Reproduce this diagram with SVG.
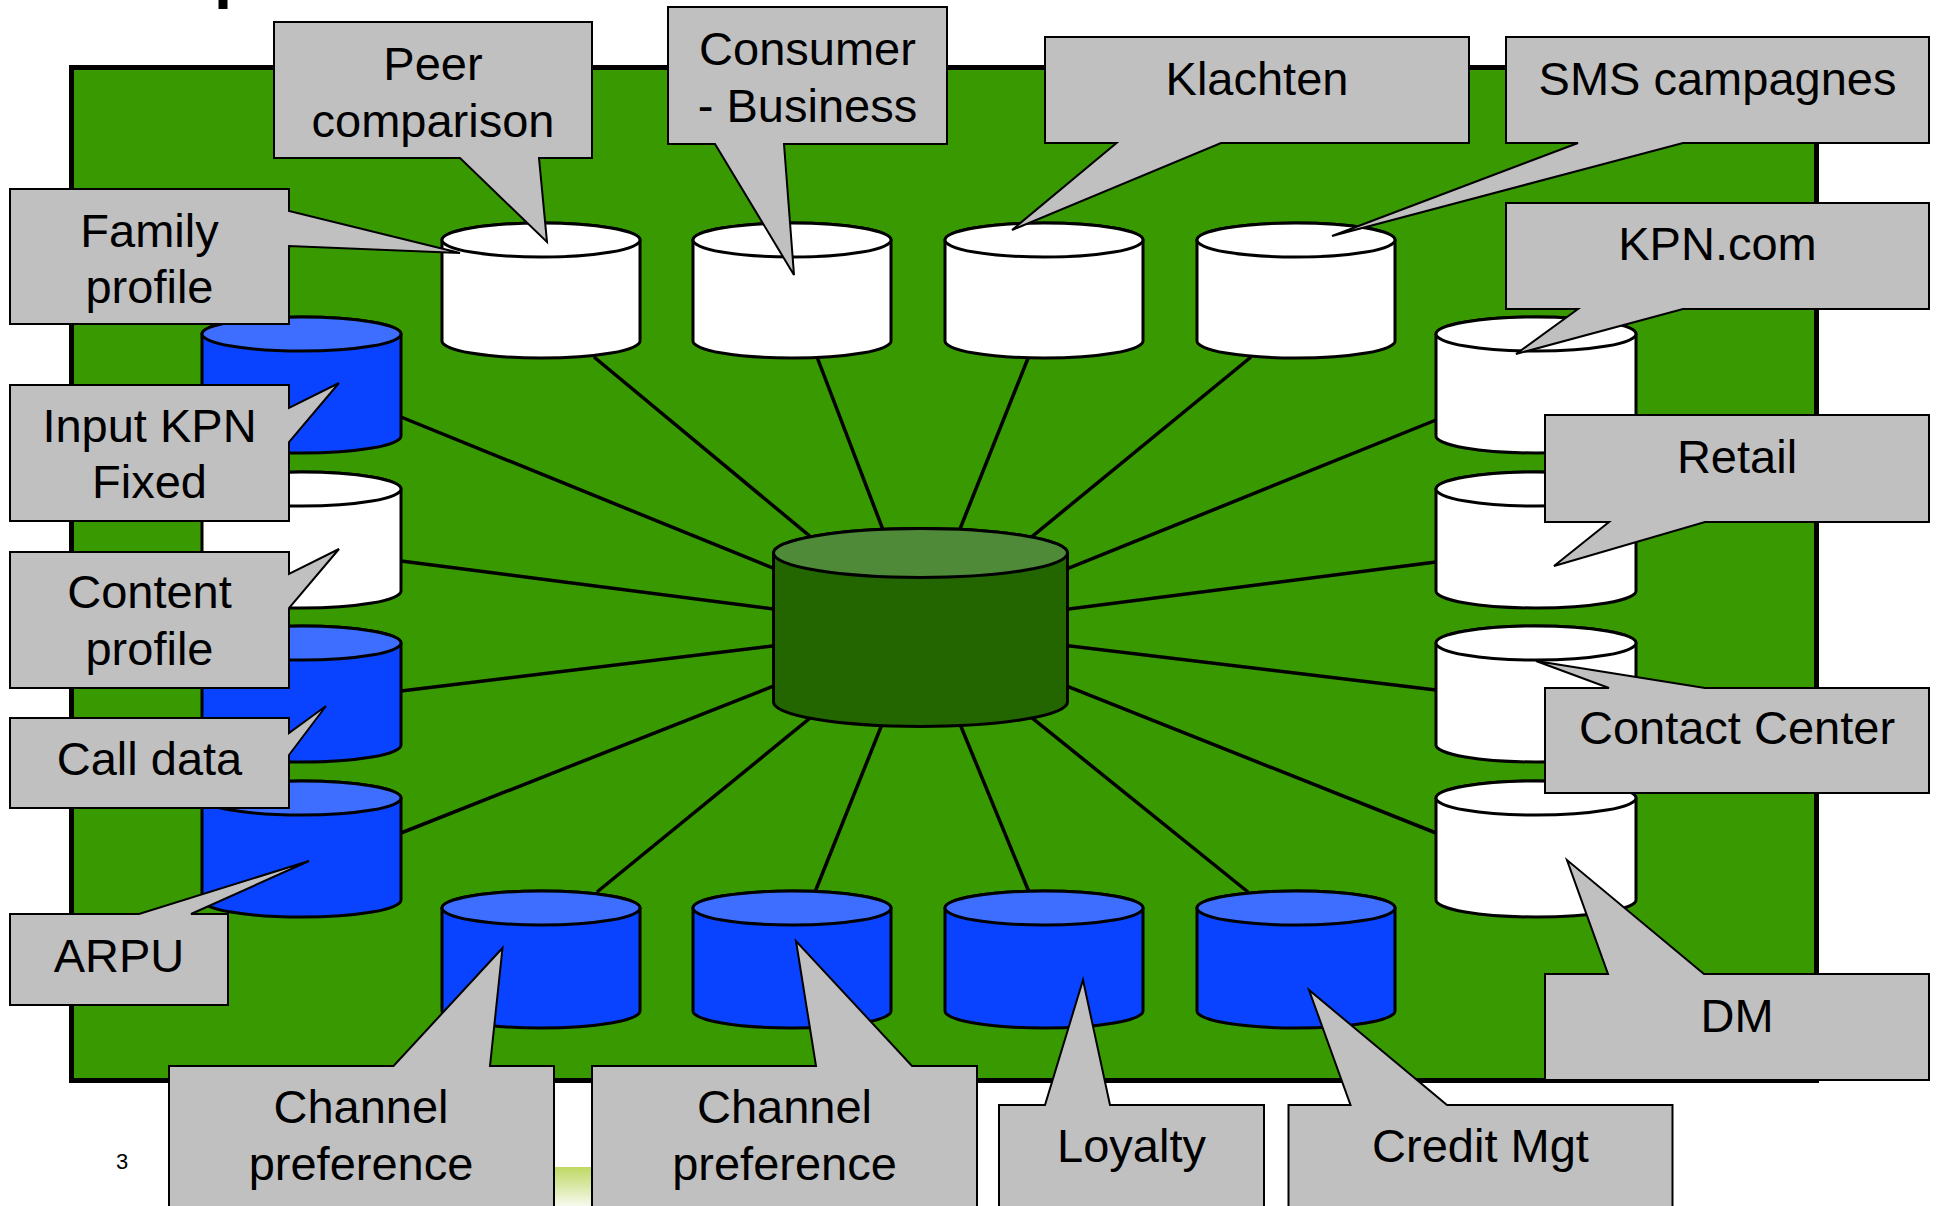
<svg xmlns="http://www.w3.org/2000/svg" width="1942" height="1206" viewBox="0 0 1942 1206">
<defs>
<style>
.bg{fill:#389900;stroke:#000;stroke-width:5}
.conn line{stroke:#000;stroke-width:3.5}
.cyl path,.cyl ellipse{stroke:#000;stroke-width:3}
.w path,.w ellipse{fill:#fff}
.b path{fill:#0A43FF}
.b ellipse{fill:#3D6EFF}
.c path{fill:#236600}
.c ellipse{fill:#4F8A38}
.box{fill:#C0C0C0;stroke:#000;stroke-width:2}
.lbl{font-family:"Liberation Sans",Arial,Helvetica,sans-serif;font-size:47px;text-anchor:middle;fill:#000}
.pg{font-family:"Liberation Sans",Arial,sans-serif;font-size:22px;text-anchor:middle;fill:#000}
</style>
<linearGradient id="blob" x1="0" y1="0" x2="0" y2="1">
<stop offset="0" stop-color="#BFD862"/>
<stop offset="1" stop-color="#F6F9EE"/>
</linearGradient>
</defs>
<rect width="1942" height="1206" fill="#fff"/>
<rect x="218.5" y="0" width="9" height="9" fill="#000"/>
<rect x="554" y="1167" width="38" height="39" fill="url(#blob)"/>
<text class="pg" x="122" y="1169">3</text>
<rect class="bg" x="71.5" y="67.5" width="1745" height="1013"/>
<g id="connectors" class="conn">
<line x1="594" y1="357" x2="920.5" y2="628"/>
<line x1="817" y1="357" x2="920.5" y2="628"/>
<line x1="1028.5" y1="357" x2="920.5" y2="628"/>
<line x1="1251" y1="357" x2="920.5" y2="628"/>
<line x1="401" y1="417" x2="920.5" y2="628"/>
<line x1="401" y1="561" x2="920.5" y2="628"/>
<line x1="401" y1="691" x2="920.5" y2="628"/>
<line x1="401" y1="833" x2="920.5" y2="628"/>
<line x1="1436" y1="420" x2="920.5" y2="628"/>
<line x1="1436" y1="562" x2="920.5" y2="628"/>
<line x1="1436" y1="690" x2="920.5" y2="628"/>
<line x1="1436" y1="833" x2="920.5" y2="628"/>
<line x1="597" y1="892" x2="920.5" y2="628"/>
<line x1="815" y1="892" x2="920.5" y2="628"/>
<line x1="1029" y1="892" x2="920.5" y2="628"/>
<line x1="1248" y1="892" x2="920.5" y2="628"/>
</g>
<g id="hub" class="cyl c"><path d="M773.5,553 V702 A147,24.5 0 0 0 1067.5,702 V553 A147,24.5 0 0 0 773.5,553 Z"/><ellipse cx="920.5" cy="553" rx="147" ry="24.5"/></g>
<g id="db-top1" class="cyl w"><path d="M442,240 V341 A99,17 0 0 0 640,341 V240 A99,17 0 0 0 442,240 Z"/><ellipse cx="541" cy="240" rx="99" ry="17"/></g>
<g id="db-top2" class="cyl w"><path d="M693,240 V341 A99,17 0 0 0 891,341 V240 A99,17 0 0 0 693,240 Z"/><ellipse cx="792" cy="240" rx="99" ry="17"/></g>
<g id="db-top3" class="cyl w"><path d="M945,240 V341 A99,17 0 0 0 1143,341 V240 A99,17 0 0 0 945,240 Z"/><ellipse cx="1044" cy="240" rx="99" ry="17"/></g>
<g id="db-top4" class="cyl w"><path d="M1197,240 V341 A99,17 0 0 0 1395,341 V240 A99,17 0 0 0 1197,240 Z"/><ellipse cx="1296" cy="240" rx="99" ry="17"/></g>
<g id="db-left1" class="cyl b"><path d="M202,334 V436 A99.5,17 0 0 0 401,436 V334 A99.5,17 0 0 0 202,334 Z"/><ellipse cx="301.5" cy="334" rx="99.5" ry="17"/></g>
<g id="db-left2" class="cyl w"><path d="M202,489 V591 A99.5,17 0 0 0 401,591 V489 A99.5,17 0 0 0 202,489 Z"/><ellipse cx="301.5" cy="489" rx="99.5" ry="17"/></g>
<g id="db-left3" class="cyl b"><path d="M202,643 V745 A99.5,17 0 0 0 401,745 V643 A99.5,17 0 0 0 202,643 Z"/><ellipse cx="301.5" cy="643" rx="99.5" ry="17"/></g>
<g id="db-left4" class="cyl b"><path d="M202,798 V900 A99.5,17 0 0 0 401,900 V798 A99.5,17 0 0 0 202,798 Z"/><ellipse cx="301.5" cy="798" rx="99.5" ry="17"/></g>
<g id="db-right1" class="cyl w"><path d="M1436,334 V436 A100,17 0 0 0 1636,436 V334 A100,17 0 0 0 1436,334 Z"/><ellipse cx="1536" cy="334" rx="100" ry="17"/></g>
<g id="db-right2" class="cyl w"><path d="M1436,489 V591 A100,17 0 0 0 1636,591 V489 A100,17 0 0 0 1436,489 Z"/><ellipse cx="1536" cy="489" rx="100" ry="17"/></g>
<g id="db-right3" class="cyl w"><path d="M1436,643 V745 A100,17 0 0 0 1636,745 V643 A100,17 0 0 0 1436,643 Z"/><ellipse cx="1536" cy="643" rx="100" ry="17"/></g>
<g id="db-right4" class="cyl w"><path d="M1436,798 V900 A100,17 0 0 0 1636,900 V798 A100,17 0 0 0 1436,798 Z"/><ellipse cx="1536" cy="798" rx="100" ry="17"/></g>
<g id="db-bot1" class="cyl b"><path d="M442,908 V1011 A99,17 0 0 0 640,1011 V908 A99,17 0 0 0 442,908 Z"/><ellipse cx="541" cy="908" rx="99" ry="17"/></g>
<g id="db-bot2" class="cyl b"><path d="M693,908 V1011 A99,17 0 0 0 891,1011 V908 A99,17 0 0 0 693,908 Z"/><ellipse cx="792" cy="908" rx="99" ry="17"/></g>
<g id="db-bot3" class="cyl b"><path d="M945,908 V1011 A99,17 0 0 0 1143,1011 V908 A99,17 0 0 0 945,908 Z"/><ellipse cx="1044" cy="908" rx="99" ry="17"/></g>
<g id="db-bot4" class="cyl b"><path d="M1197,908 V1011 A99,17 0 0 0 1395,1011 V908 A99,17 0 0 0 1197,908 Z"/><ellipse cx="1296" cy="908" rx="99" ry="17"/></g>

<g id="call-peer"><path class="box" d="M274,22 H592 V158 H539 L547,242 L460,158 H274 Z"/><text class="lbl" x="433" y="80">Peer</text><text class="lbl" x="433" y="137">comparison</text></g>
<g id="call-family"><path class="box" d="M10,189 H289 V211 L460,253 L289,246 V324 H10 Z"/><text class="lbl" x="149.5" y="247">Family</text><text class="lbl" x="149.5" y="303">profile</text></g>
<g id="call-consumer"><path class="box" d="M668,7 H947 V144 H784 L794,275 L715,144 H668 Z"/><text class="lbl" x="807.5" y="65">Consumer</text><text class="lbl" x="807.5" y="122">- Business</text></g>
<g id="call-klachten"><path class="box" d="M1045,37 H1469 V143 H1221 L1012,230 L1116.5,143 H1045 Z"/><text class="lbl" x="1257" y="95">Klachten</text></g>
<g id="call-sms"><path class="box" d="M1506,37 H1929 V143 H1683 L1332,236 L1578,143 H1506 Z"/><text class="lbl" x="1717.5" y="95">SMS campagnes</text></g>
<g id="call-kpncom"><path class="box" d="M1506,203 H1929 V309 H1683 L1516,354 L1578,309 H1506 Z"/><text class="lbl" x="1717.5" y="260">KPN.com</text></g>
<g id="call-input"><path class="box" d="M10,385 H289 V408 L339,383 L289,442 V521 H10 Z"/><text class="lbl" x="149.5" y="442">Input KPN</text><text class="lbl" x="149.5" y="498">Fixed</text></g>
<g id="call-content"><path class="box" d="M10,552 H289 V574 L339,549 L289,608 V688 H10 Z"/><text class="lbl" x="149.5" y="608">Content</text><text class="lbl" x="149.5" y="665">profile</text></g>
<g id="call-calldata"><path class="box" d="M10,718 H289 V733 L326,706 L289,755 V808 H10 Z"/><text class="lbl" x="149.5" y="775">Call data</text></g>
<g id="call-arpu"><path class="box" d="M10,914 H139 L309,861 L191,914 H228 V1005 H10 Z"/><text class="lbl" x="119" y="972">ARPU</text></g>
<g id="call-retail"><path class="box" d="M1545,415 H1929 V522 H1705 L1554,566 L1609,522 H1545 Z"/><text class="lbl" x="1737" y="473">Retail</text></g>
<g id="call-contact"><path class="box" d="M1545,688 H1609 L1536,661 L1705,688 H1929 V793 H1545 Z"/><text class="lbl" x="1737" y="744">Contact Center</text></g>
<g id="call-dm"><path class="box" d="M1545,974 H1608 L1567,860 L1704,974 H1929 V1080 H1545 Z"/><text class="lbl" x="1737" y="1032">DM</text></g>
<g id="call-channel1"><path class="box" d="M169,1066 H393.5 L502.5,948 L490,1066 H554 V1220 H169 Z"/><text class="lbl" x="361" y="1123">Channel</text><text class="lbl" x="361" y="1180">preference</text></g>
<g id="call-channel2"><path class="box" d="M592,1066 H816 L796,941 L912,1066 H977 V1220 H592 Z"/><text class="lbl" x="784.5" y="1123">Channel</text><text class="lbl" x="784.5" y="1180">preference</text></g>
<g id="call-loyalty"><path class="box" d="M999,1105 H1045 L1083,980 L1110,1105 H1264 V1220 H999 Z"/><text class="lbl" x="1131.5" y="1162">Loyalty</text></g>
<g id="call-credit"><path class="box" d="M1288.5,1105 H1350.5 L1309,990 L1447,1105 H1672.5 V1220 H1288.5 Z"/><text class="lbl" x="1480.5" y="1162">Credit Mgt</text></g>
</svg>
